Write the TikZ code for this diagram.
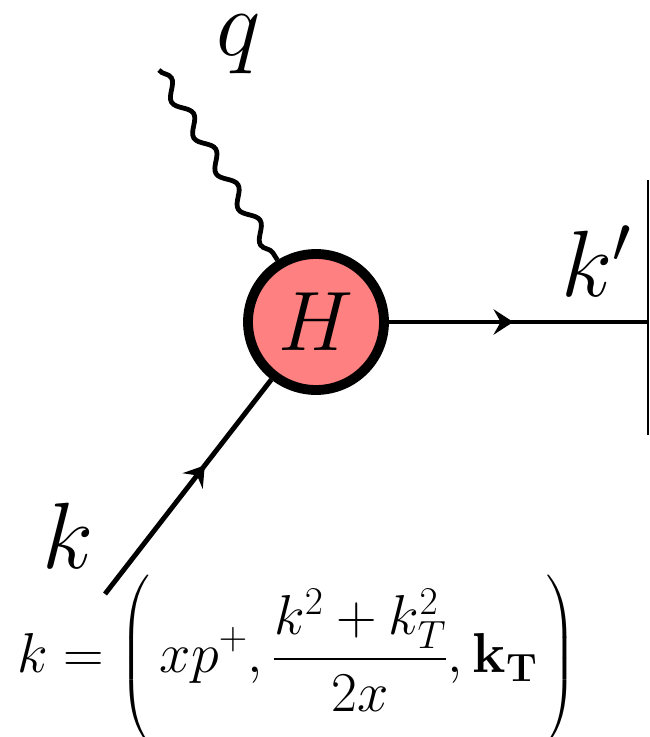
\documentclass[tikz,border=0pt]{standalone}
\usepackage{fix-cm}
\usepackage{amsmath}
\usetikzlibrary{arrows.meta, decorations.pathmorphing, decorations.markings}

\begin{document}
\begin{tikzpicture}[lbl/.style={inner sep=0pt, font=\fontsize{67}{70}\selectfont}, blob/.style={circle, draw, fill=red!50, line width=7pt, minimum size=3.4cm, inner sep=0pt, font=\fontsize{60}{64}\selectfont}, fermion/.style={line width=3.5pt, postaction={decorate}, decoration={markings, mark=at position #1 with {\arrow{Stealth[length=14pt, width=18pt, inset=5pt]}}}}, photon/.style={line width=3.4pt, decorate, decoration={snake, segment length=1.05cm, amplitude=0.16cm}}]
\useasboundingbox (0,0) rectangle (16.225,-18.425);
\node[blob] (H) at (7.9,-8.05) {$H$};
\coordinate (qin) at (3.975,-1.75);
\coordinate (kin) at (2.625,-14.85);
\coordinate (kout) at (16.2,-8.05);
\coordinate (cuttop) at (16.2,-4.5);
\coordinate (cutbot) at (16.2,-10.875);
\draw[photon] (qin) -- (H);
\draw[fermion=0.6] (kin) -- (H);
\draw[fermion=0.48] (H) -- (kout);
\draw[line width=1.4pt] (cuttop) -- (cutbot);
\node[lbl] (qlab) at (5.975,-1.1) {$q$};
\node[lbl] (kplab) at (14.9,-6.525) {$k'$};
\node[lbl] (klab) at (1.71,-13.4) {$k$};
\node[inner sep=0pt, font=\fontsize{40}{48}\selectfont] (kdef) at (7.44,-16.47) {$\displaystyle k=\left(\vcenter to 110pt{}\,xp^+,\frac{k^2+k_T^2}{2x},\mathbf{k_T}\,\right)$};
\end{tikzpicture}
\end{document}
